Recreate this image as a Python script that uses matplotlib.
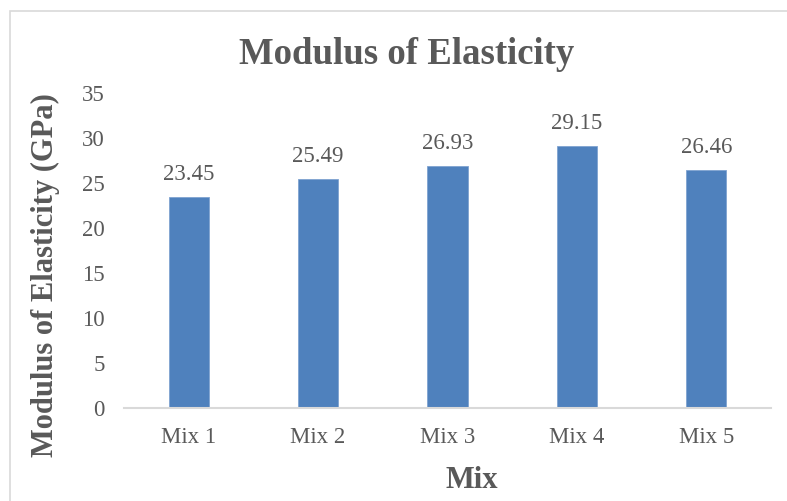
import matplotlib.pyplot as plt
from matplotlib.patches import Rectangle

# Chart data
mixes = ['Mix 1', 'Mix 2', 'Mix 3', 'Mix 4', 'Mix 5']
modulus = [23.45, 25.49, 26.93, 29.15, 26.46]

TEXT = '#595959'
BAR = '#4F81BD'

plt.rcParams['font.family'] = ['Liberation Serif', 'DejaVu Serif']

fig = plt.figure(figsize=(7.87, 5.01), dpi=100)
ax = fig.add_axes([124 / 787, 1 - 408 / 501, 647 / 787, 315 / 501])

bars = ax.bar(range(len(mixes)), modulus, width=0.31, color=BAR,
              edgecolor='#7FA3D1', linewidth=0.6, zorder=2)
for b, v in zip(bars, modulus):
    ax.text(b.get_x() + b.get_width() / 2, v + 1.3, f'{v:.2f}',
            ha='center', va='bottom', fontsize=16.5, color=TEXT)

ax.set_xlim(-0.5, len(mixes) - 0.5)
ax.set_ylim(0, 35)
ax.set_yticks(range(0, 36, 5))
ax.set_xticks(range(len(mixes)))
ax.set_xticklabels(mixes)
ax.tick_params(axis='both', length=0, labelsize=16.5, labelcolor=TEXT)
ax.tick_params(axis='y', pad=14)
ax.tick_params(axis='x', pad=14)

for side in ['top', 'right', 'left']:
    ax.spines[side].set_visible(False)
ax.spines['bottom'].set_color('#D9D9D9')
ax.spines['bottom'].set_linewidth(1.5)

fig.text(407 / 787, 1 - 55 / 501, 'Modulus of Elasticity', ha='center',
         va='center', fontsize=26.5, fontweight='bold', color=TEXT)
fig.text(45 / 787, 1 - 275 / 501, 'Modulus of Elasticity (GPa)', ha='center',
         va='center', rotation=90, fontsize=22, fontweight='bold', color=TEXT)
fig.text(472 / 787, 1 - 480 / 501, 'Mix', ha='center', va='center',
         fontsize=22, fontweight='bold', color=TEXT)

# light frame around the chart area (right/bottom run off the image)
fig.patches.append(Rectangle((10 / 787, -0.1), 1.1, 1 - 11 / 501 + 0.1,
                             transform=fig.transFigure, fill=False,
                             edgecolor='#D9D9D9', linewidth=1.2))

fig.savefig('out.png', dpi=100)
